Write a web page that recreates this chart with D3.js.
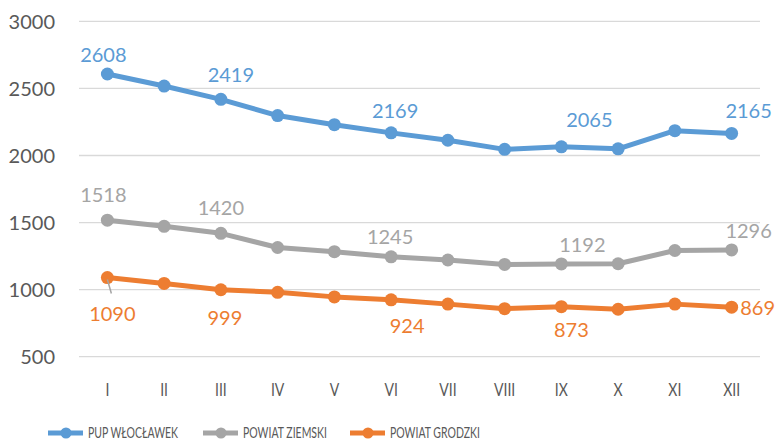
<!DOCTYPE html>
<html>
<head>
<meta charset="utf-8">
<script src="https://cdn.jsdelivr.net/npm/d3@7"></script>
<style>
  body { margin: 0; background: #fff; }
  svg { font-family: Lato, "Open Sans", sans-serif; }
</style>
</head>
<body>
<div id="chart"></div>
<script>
// months in roman numerals
let months = ["I", "II", "III", "IV", "V", "VI", "VII", "VIII", "IX", "X", "XI", "XII"];
let yTicks = [500, 1000, 1500, 2000, 2500, 3000];

// series values
let pupValues = [2608, 2518, 2419, 2298, 2230, 2169, 2114, 2046, 2065, 2050, 2185, 2165];
let ziemskiValues = [1518, 1472, 1420, 1314, 1283, 1245, 1221, 1188, 1192, 1193, 1292, 1296];
let grodzkiValues = [1090, 1046, 999, 980, 946, 924, 892, 858, 873, 854, 892, 869];

let seriesNames = ["PUP WŁOCŁAWEK", "POWIAT ZIEMSKI", "POWIAT GRODZKI"];
// which points carry a value label
let labelledPoints = [0, 2, 5, 8, 11];

let colors = ["#5B9BD5", "#A5A5A5", "#ED7D31"];

// label placement, relative to the point (dx, dy to baseline)
let labelNudge = [
  { 0: [-4, -12], 2: [10, -17], 5: [4, -15], 8: [28, -20], 11: [17, -15] },
  { 0: [-4, -18], 2: [0, -18], 5: [-1, -13], 8: [21, -12], 11: [17, -12] },
  { 0: [5, 43], 2: [4, 35], 5: [16, 33], 8: [10, 30], 11: [26, 8] }
];

let svgWidth = 775;
let svgHeight = 442;

let svg = d3.select("#chart")
  .append("svg")
  .attr("width", svgWidth)
  .attr("height", svgHeight);

let x = d3.scaleBand()
  .domain(months)
  .range([79, 760]);

let y = d3.scaleLinear()
  .domain([500, 3000])
  .range([356.7, 21.4]);

let px = d => x(d) + x.bandwidth() / 2;

// gridlines
svg.append("g")
  .selectAll("line")
  .data(yTicks)
  .enter()
  .append("line")
  .attr("x1", 79)
  .attr("x2", 760)
  .attr("y1", d => y(d))
  .attr("y2", d => y(d))
  .attr("stroke", "#D9D9D9")
  .attr("stroke-width", 1.3);

// y axis labels
let yAxis = svg.append("g")
  .attr("transform", "translate(55, 0)")
  .call(d3.axisLeft(y).tickValues(yTicks).tickFormat(d3.format("d")).tickSize(0).tickPadding(0));
yAxis.select(".domain").remove();
yAxis.selectAll("text")
  .attr("font-family", "Lato, sans-serif")
  .attr("font-size", 20)
  .attr("fill", "#595959")
  .attr("dy", "0.36em");

// x axis labels
let xAxis = svg.append("g")
  .attr("transform", "translate(0, 389.5)")
  .call(d3.axisBottom(x).tickSize(0).tickPadding(0));
xAxis.select(".domain").remove();
xAxis.selectAll("text")
  .attr("font-family", "Lato, sans-serif")
  .attr("font-size", 18)
  .attr("fill", "#595959")
  .attr("dy", "0.36em")
  .attr("transform", "scale(0.78, 1)");

let allSeries = [pupValues, ziemskiValues, grodzkiValues];

let line = d3.line()
  .x((d, i) => px(months[i]))
  .y(d => y(d));

// draw lines and markers
allSeries.forEach(function(values, s) {
  let g = svg.append("g");

  g.append("path")
    .datum(values)
    .attr("fill", "none")
    .attr("stroke", colors[s])
    .attr("stroke-width", 5)
    .attr("stroke-linejoin", "round")
    .attr("d", line);

  g.selectAll("circle")
    .data(values)
    .enter()
    .append("circle")
    .attr("cx", (d, i) => px(months[i]))
    .attr("cy", d => y(d))
    .attr("r", 6.5)
    .attr("fill", colors[s]);
});

// leader line for the first orange label
svg.append("line")
  .attr("x1", px(months[0]))
  .attr("y1", y(grodzkiValues[0]) + 2)
  .attr("x2", px(months[0]) + 4)
  .attr("y2", y(grodzkiValues[0]) + 16)
  .attr("stroke", "#A5A5A5")
  .attr("stroke-width", 1.5);

// value labels
allSeries.forEach(function(values, s) {
  svg.append("g")
    .selectAll("text")
    .data(labelledPoints)
    .enter()
    .append("text")
    .attr("x", i => px(months[i]) + labelNudge[s][i][0])
    .attr("y", i => y(values[i]) + labelNudge[s][i][1])
    .attr("text-anchor", "middle")
    .attr("font-size", 20)
    .attr("fill", colors[s])
    .text(i => values[i]);
});

// legend
let legendX = [48, 203, 350];
let legend = svg.append("g")
  .attr("transform", "translate(0, 433)");

seriesNames.forEach(function(name, s) {
  let item = legend.append("g")
    .attr("transform", `translate(${legendX[s]}, 0)`);

  item.append("line")
    .attr("x1", 0)
    .attr("x2", 35)
    .attr("stroke", colors[s])
    .attr("stroke-width", 5);

  item.append("circle")
    .attr("cx", 18)
    .attr("r", 5.5)
    .attr("fill", colors[s]);

  item.append("text")
    .attr("x", 40)
    .attr("dy", "0.36em")
    .attr("font-size", 15)
    .attr("fill", "#595959")
    .attr("transform", "translate(40, 0) scale(0.7, 1) translate(-40, 0)")
    .text(name);
});
</script>
</body>
</html>
